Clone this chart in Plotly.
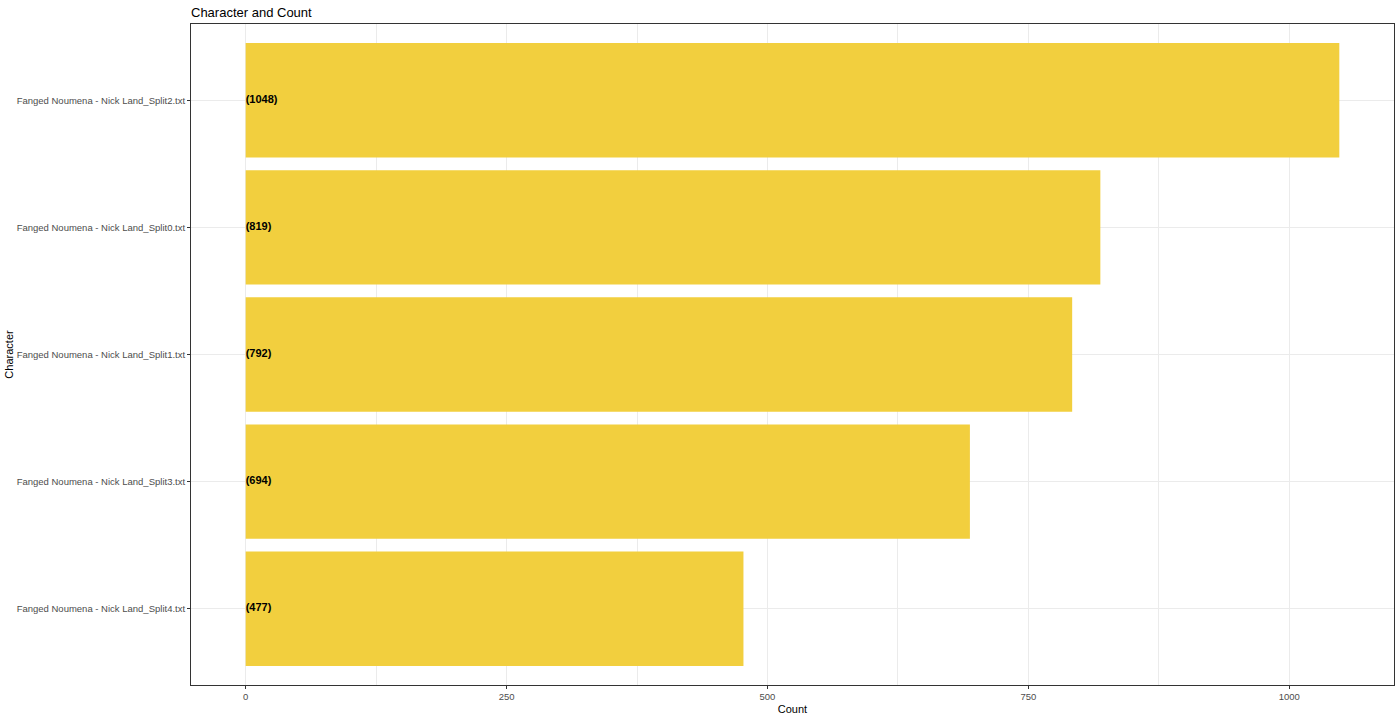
import plotly.graph_objects as go

characters = [
    "Fanged Noumena - Nick Land_Split4.txt",
    "Fanged Noumena - Nick Land_Split3.txt",
    "Fanged Noumena - Nick Land_Split1.txt",
    "Fanged Noumena - Nick Land_Split0.txt",
    "Fanged Noumena - Nick Land_Split2.txt",
]
counts = [477, 694, 792, 819, 1048]
labels = [f"({c})" for c in counts]
x_ticks = [0, 250, 500, 750, 1000]
minor_ticks = [125, 375, 625, 875, 1125]

FONT = "Liberation Sans, Arial, sans-serif"
BAR = "#F2CF3E"
GRID = "#EBEBEB"

fig = go.Figure()
fig.add_trace(go.Bar(
    x=counts, y=characters, orientation="h", width=0.9,
    marker=dict(color=BAR, line=dict(width=0)), hoverinfo="skip",
))
fig.add_trace(go.Scatter(
    x=[0] * len(counts), y=characters, mode="text", text=labels,
    textposition="middle right",
    textfont=dict(family=FONT, size=11, color="black", weight="bold"),
    hoverinfo="skip",
))

pad = 0.05 * max(counts)
fig.update_layout(
    width=1400, height=720,
    margin=dict(l=191, r=6, t=24, b=35),
    paper_bgcolor="white", plot_bgcolor="white",
    showlegend=False,
    font=dict(family=FONT, color="#4D4D4D", size=10),
    title=dict(text="Character and Count", x=191 / 1400, xanchor="left",
               y=1 - 12 / 720, yanchor="middle",
               font=dict(family=FONT, size=13, color="black")),
    xaxis=dict(
        range=[-pad, max(counts) + pad],
        tickmode="array", tickvals=x_ticks, ticktext=[str(t) for t in x_ticks],
        showgrid=True, gridcolor=GRID, gridwidth=1,
        minor=dict(tickmode="array", tickvals=minor_ticks, showgrid=True,
                   gridcolor=GRID, gridwidth=0.6, ticks=""),
        zeroline=False, automargin=False,
        showline=True, linecolor="#333333", linewidth=1, mirror=True,
        ticks="outside", ticklen=3, tickcolor="#333333",
        tickfont=dict(family=FONT, size=9.5, color="#4D4D4D"),
        title=dict(text="Count", font=dict(family=FONT, size=11, color="black"), standoff=3),
    ),
    yaxis=dict(
        categoryorder="array", categoryarray=characters,
        range=[-0.6, len(characters) - 0.4],
        showgrid=True, gridcolor=GRID, gridwidth=1,
        zeroline=False, automargin=False,
        showline=True, linecolor="#333333", linewidth=1, mirror=True,
        ticks="outside", ticklen=3, tickcolor="#333333",
        tickfont=dict(family=FONT, size=9.5, color="#4D4D4D"),
        title=dict(text="Character", font=dict(family=FONT, size=11, color="black"), standoff=0),
    ),
)

fig.write_html(
    "out.html",
    config={"displayModeBar": False},
    post_script="document.body.style.margin='0';document.body.style.overflow='hidden';",
)
